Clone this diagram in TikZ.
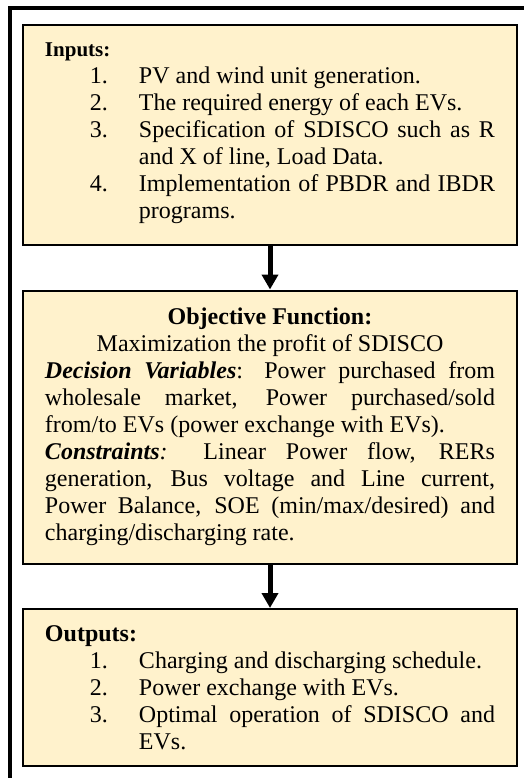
\documentclass[tikz,border=0pt]{standalone}
\usepackage{fontspec}
\setmainfont{Liberation Serif}
\usepackage{enumitem}
\usetikzlibrary{arrows.meta,positioning}
\definecolor{panelfill}{HTML}{FFF2CC}

\setlist[enumerate]{label=\arabic*., leftmargin=47pt, labelsep=15.5pt, align=right,
  topsep=0pt, itemsep=0pt, parsep=0pt, partopsep=0pt}

\begin{document}
\begin{tikzpicture}[x=0.5pt, y=-0.5pt,
  panel/.style={draw=black, line width=1pt, fill=panelfill, text width=225pt,
    inner xsep=11pt, inner ysep=0pt, align=justify, font=\fontsize{12}{13.5}\selectfont},
  flow/.style={line width=2.5pt, -{Triangle[width=8pt,length=7.5pt]}},
  node distance=21.75pt]

\useasboundingbox (0,0) rectangle (524,778);
% outer frame
\draw[line width=2pt] (10,7.5) rectangle (540,780);

\node[panel, anchor=north west, minimum height=110pt] (inputs) at (22,24)
  {\strut{\fontsize{10.5}{13.5}\selectfont\textbf{Inputs:}}
   \begin{enumerate}
   \item PV and wind unit generation.
   \item The required energy of each EVs.
   \item Specification of SDISCO such as R\linebreak and X of line, Load Data.
   \item Implementation of PBDR and IBDR\linebreak programs.\rule[-7.45pt]{0pt}{0pt}
   \end{enumerate}};

\node[panel, below=of inputs, minimum height=136.5pt] (objective)
  {{\centering\strut\textbf{Objective Function:}\par
    Maximization the profit of SDISCO\par}
   \textbf{\textit{Decision Variables}}: Power purchased from\linebreak
   wholesale market, Power purchased/sold\linebreak
   from/to EVs (power exchange with EVs).\par
   \textbf{\textit{Constraints}}\textit{:} Linear Power flow, RERs\linebreak
   generation, Bus voltage and Line current,\linebreak
   Power Balance, SOE (min/max/desired) and\linebreak
   charging/discharging rate.\strut};

\node[panel, below=of objective, minimum height=78.5pt] (outputs)
  {\rule{0pt}{12.45pt}\textbf{Outputs:}
   \begin{enumerate}
   \item Charging and discharging schedule.
   \item Power exchange with EVs.
   \item Optimal operation of SDISCO and\linebreak EVs.\strut
   \end{enumerate}};

\draw[flow] (inputs) -- (objective);
\draw[flow] (objective) -- (outputs);
\end{tikzpicture}
\end{document}
